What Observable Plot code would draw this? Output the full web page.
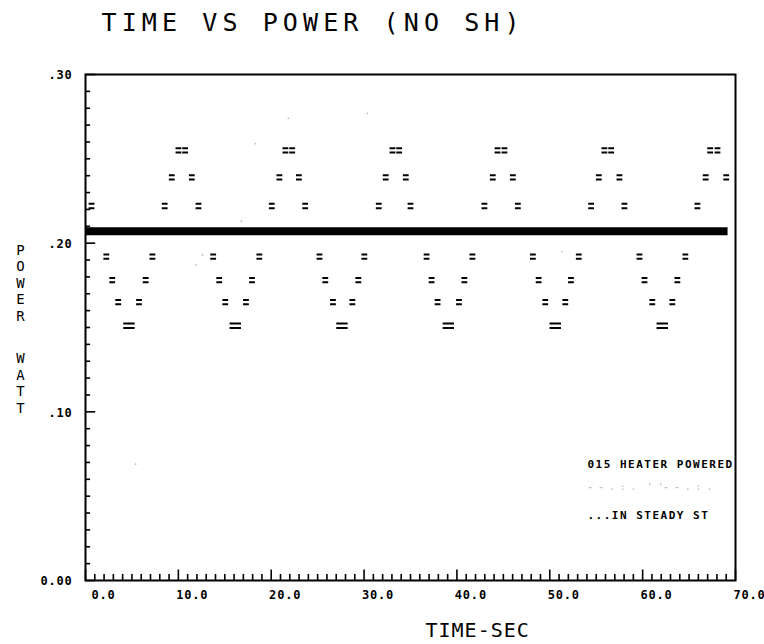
<!DOCTYPE html>
<html><head><meta charset="utf-8">
<script src="https://cdn.jsdelivr.net/npm/d3@7"></script>
<script src="https://cdn.jsdelivr.net/npm/@observablehq/plot@0.6"></script>
<style>html,body{margin:0;padding:0;background:#fff;}</style>
</head><body><div id="chart"></div>
<script>
// ---- text ----
const titleText = "TIME VS POWER (NO SH)";
const xLabelText = "TIME-SEC";
const yLabelTop = "P\nO\nW\nE\nR";
const yLabelBottom = "W\nA\nT\nT";
const legendMain = "015 HEATER POWERED";
const legendFaint = "- - . : .  ' '- - . : .";
const legendSteady = "...IN STEADY ST";

// ---- ticks ----
const xTicks = [0, 10, 20, 30, 40, 50, 60, 70];
const xTickLabels = ["0.0", "10.0", "20.0", "30.0", "40.0", "50.0", "60.0", "70.0"];
const xMinorTicks = [1,2,3,4,5,6,7,8,9,11,12,13,14,15,16,17,18,19,21,22,23,24,25,26,27,28,29,31,32,33,34,35,36,37,38,39,41,42,43,44,45,46,47,48,49,51,52,53,54,55,56,57,58,59,61,62,63,64,65,66,67,68,69];
const yTicks = [0, 0.10, 0.20, 0.30];
const yTickLabels = ["0.00", ".10", ".20", ".30"];
const yMinorTicks = [0.01,0.02,0.03,0.04,0.05,0.06,0.07,0.08,0.09,0.11,0.12,0.13,0.14,0.15,0.16,0.17,0.18,0.19,0.21,0.22,0.23,0.24,0.25,0.26,0.27,0.28,0.29];

// ---- data: heater power samples (time in s, power in W) ----
const time = [
  0.65, 1.40, 2.24, 2.88, 3.52, 4.38, 4.98, 5.76, 6.48, 7.21, 7.89, 8.53, 9.29, 10.01, 10.73, 11.45,
  12.17, 12.96, 13.75, 14.40, 15.05, 15.83, 16.43, 17.28, 17.93, 18.72, 19.39, 20.06, 20.88, 21.53, 22.26, 22.98,
  23.66, 24.41, 25.20, 25.82, 26.65, 27.32, 27.92, 28.74, 29.38, 30.03, 30.79, 31.58, 32.33, 33.06, 33.78, 34.49,
  35.00, 35.86, 36.73, 37.27, 37.92, 38.77, 39.37, 40.22, 40.80, 41.67, 42.35, 42.96, 43.86, 44.37, 45.12, 46.02,
  46.56, 47.32, 48.18, 48.80, 49.51, 50.29, 50.89, 51.67, 52.28, 53.12, 53.80, 54.45, 55.28, 55.88, 56.61, 57.50,
  58.04, 58.88, 59.66, 60.20, 61.04, 61.81, 62.41, 63.20, 63.74, 64.60, 65.25, 65.90, 66.79, 67.27, 68.06, 69.00
];
const power = [
  0.222, 0.207, 0.192, 0.178, 0.165, 0.151, 0.151, 0.165, 0.178, 0.192, 0.207, 0.222, 0.239, 0.255, 0.255, 0.239,
  0.222, 0.207, 0.192, 0.178, 0.165, 0.151, 0.151, 0.165, 0.178, 0.192, 0.207, 0.222, 0.239, 0.255, 0.255, 0.239,
  0.222, 0.207, 0.192, 0.178, 0.165, 0.151, 0.151, 0.165, 0.178, 0.192, 0.207, 0.222, 0.239, 0.255, 0.255, 0.239,
  0.222, 0.207, 0.192, 0.178, 0.165, 0.151, 0.151, 0.165, 0.178, 0.192, 0.207, 0.222, 0.239, 0.255, 0.255, 0.239,
  0.222, 0.207, 0.192, 0.178, 0.165, 0.151, 0.151, 0.165, 0.178, 0.192, 0.207, 0.222, 0.239, 0.255, 0.255, 0.239,
  0.222, 0.207, 0.192, 0.178, 0.165, 0.151, 0.151, 0.165, 0.178, 0.192, 0.207, 0.222, 0.239, 0.255, 0.255, 0.239
];
// steady-state level
const steadyPower = [0.207];
const steadyStart = 0;
const steadyEnd = 69.2;
// faint (barely printed) series
const faintTime = [5.4, 21.85, 30.36, 18.3, 16.8, 12.6, 11.9, 51.3];
const faintPower = [0.069, 0.274, 0.277, 0.259, 0.213, 0.193, 0.187, 0.195];

const points = time.map((t, i) => ({t, p: power[i]}));
const faint = faintTime.map((t, i) => ({t, p: faintPower[i]}));

const eqSymbol = {
  draw(ctx) {
    ctx.rect(-2.9, -3.2, 5.8, 2.0);
    ctx.rect(-2.9, 1.1, 5.8, 2.0);
  }
};

const mono = "DejaVu Sans Mono";

const chart = Plot.plot({
  width: 764,
  height: 644,
  marginLeft: 85,
  marginRight: 29,
  marginTop: 74,
  marginBottom: 64,
  x: {domain: [0, 70], axis: null},
  y: {domain: [0, 0.30], axis: null},
  style: {background: "white", color: "black"},
  marks: [
    // ticks
    Plot.ruleY(yMinorTicks, {y: d => d, x1: 0, x2: 0.55, stroke: "black", strokeWidth: 1.6}),
    Plot.ruleY(yTicks, {y: d => d, x1: 0, x2: 1.1, stroke: "black", strokeWidth: 1.6}),
    Plot.ruleX(xMinorTicks, {x: d => d, y1: 0, y2: 0.0036, stroke: "black", strokeWidth: 1.6}),
    Plot.ruleX(xTicks, {x: d => d, y1: 0, y2: 0.0062, stroke: "black", strokeWidth: 1.6}),
    // faint series
    Plot.dot(faint, {x: "t", y: "p", r: 0.9, fill: "#bbb", stroke: "none"}),
    // heater power samples
    Plot.dot(points, {x: "t", y: "p", symbol: eqSymbol, fill: "black", stroke: "none", r: 3}),
    // steady-state line
    Plot.ruleY(steadyPower, {y: d => d, x1: steadyStart, x2: steadyEnd, stroke: "black", strokeWidth: 8}),
    Plot.frame({stroke: "black", strokeWidth: 2}),
    // tick labels
    Plot.text(xTicks, {x: d => d, frameAnchor: "bottom", dy: 18, dx: 30, textAnchor: "end",
      text: (d, i) => xTickLabels[i], fontFamily: mono, fontWeight: "bold", fontSize: 12}),
    Plot.text(yTicks, {y: d => d, frameAnchor: "left", dx: -13, dy: 1, textAnchor: "end",
      text: (d, i) => yTickLabels[i], fontFamily: mono, fontWeight: "bold", fontSize: 12}),
    // title & axis labels
    Plot.text([titleText], {frameAnchor: "top-left", dx: 16, dy: -44, textAnchor: "start", lineAnchor: "bottom",
      fontFamily: mono, fontSize: 25}),
    Plot.text([xLabelText], {frameAnchor: "bottom-left", dx: 340, dy: 56.5, textAnchor: "start", lineAnchor: "bottom",
      fontFamily: mono, fontSize: 20}),
    Plot.text([yLabelTop], {frameAnchor: "top-left", dx: -65, dy: 246, textAnchor: "middle", lineAnchor: "bottom",
      lineHeight: 1.17, fontFamily: mono, fontSize: 14}),
    Plot.text([yLabelBottom], {frameAnchor: "top-left", dx: -65, dy: 338, textAnchor: "middle", lineAnchor: "bottom",
      lineHeight: 1.17, fontFamily: mono, fontSize: 14}),
    // legend
    Plot.text([legendMain], {frameAnchor: "top-left", dx: 502, dy: 386, textAnchor: "start",
      fontFamily: mono, fontWeight: "bold", fontSize: 11}),
    Plot.text([legendFaint], {frameAnchor: "top-left", dx: 502, dy: 409, textAnchor: "start",
      fontFamily: mono, fontWeight: "bold", fontSize: 9, fill: "#c4c4c4"}),
    Plot.text([legendSteady], {frameAnchor: "top-left", dx: 502, dy: 437, textAnchor: "start",
      fontFamily: mono, fontWeight: "bold", fontSize: 11})
  ]
});

// letter spacing (plotter-style wide lettering)
const spacing = new Map([[titleText, "5.1px"], [xLabelText, "1px"], [legendMain, "1.5px"], [legendSteady, "1.5px"]]);
xTickLabels.concat(yTickLabels).forEach(s => spacing.set(s, "0.8px"));
d3.select(chart).selectAll("text").each(function () {
  const s = spacing.get(this.textContent);
  if (s) this.style.letterSpacing = s;
});
document.getElementById("chart").appendChild(chart);
</script>
</body></html>
